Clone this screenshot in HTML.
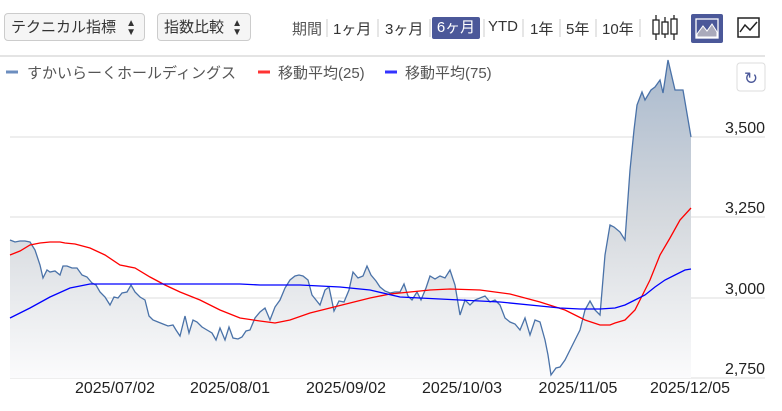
<!DOCTYPE html>
<html><head><meta charset="utf-8"><style>
body{margin:0;width:782px;height:411px;background:#fff;font-family:"Liberation Sans","Noto Sans CJK JP",sans-serif;overflow:hidden;position:relative}
.sel{position:absolute;top:13px;height:28px;border:1px solid #ccc;border-radius:4px;background:#f5f5f5;font-size:15px;line-height:28px;padding-left:6px;box-sizing:border-box;color:#333}
.per{position:absolute;top:18px;font-size:15px;color:#333}
</style></head><body>
<div class="sel" style="left:4px;width:141px">テクニカル指標 <span style="position:absolute;right:8px;font-size:10px;line-height:9px;top:5px">▲<br>▼</span></div>
<div class="sel" style="left:157px;width:94px">指数比較 <span style="position:absolute;right:8px;font-size:10px;line-height:9px;top:5px">▲<br>▼</span></div>
<div class="per" style="left:292px;color:#555">期間</div>
<div class="per" style="left:333px">1ヶ月</div>
<div class="per" style="left:385px">3ヶ月</div>
<div style="position:absolute;left:432px;top:17px;width:48px;height:22px;background:#4b5899;border-radius:2px;color:#fff;font-size:15px;line-height:22px;text-align:center">6ヶ月</div>
<div class="per" style="left:488px">YTD</div>
<div class="per" style="left:530px">1年</div>
<div class="per" style="left:566px">5年</div>
<div class="per" style="left:602px">10年</div>
<svg style="position:absolute;left:0;top:0" width="782" height="411">
<g stroke="#ccc" stroke-width="1"><line x1="327" y1="19" x2="327" y2="37"/><line x1="378" y1="19" x2="378" y2="37"/><line x1="430" y1="19" x2="430" y2="37"/><line x1="484" y1="19" x2="484" y2="37"/><line x1="523" y1="19" x2="523" y2="37"/><line x1="560" y1="19" x2="560" y2="37"/><line x1="596" y1="19" x2="596" y2="37"/><line x1="640" y1="19" x2="640" y2="37"/></g>
<g stroke="#222" fill="#fff" stroke-width="1.3"><line x1="656" y1="15" x2="656" y2="40"/><rect x="653" y="20" width="6" height="14"/><line x1="665" y1="17" x2="665" y2="38"/><rect x="662" y="22" width="6" height="12"/><line x1="674" y1="15" x2="674" y2="40"/><rect x="671" y="19" width="6" height="15"/></g>
<rect x="691" y="14" width="32" height="29" rx="2" fill="#4b5899"/>
<rect x="696" y="19" width="22" height="19" fill="none" stroke="#fff" stroke-width="1.3"/>
<path d="M697 34 L703 26 L707 31 L712 24 L717 32 L717 37 L697 37Z" fill="#aab" stroke="#fff"/>
<rect x="738" y="18" width="21" height="19" fill="none" stroke="#222" stroke-width="1.5"/>
<path d="M740 32 L745 25 L750 30 L757 22" fill="none" stroke="#222" stroke-width="1.5"/>
<line x1="0" y1="56" x2="765" y2="56" stroke="#e4e4e4" stroke-width="2"/>
<line x1="6" y1="72" x2="18" y2="72" stroke="#6c8ebf" stroke-width="3"/>
<text x="27" y="78" font-size="15" fill="#555">すかいらーくホールディングス</text>
<line x1="258" y1="72" x2="270" y2="72" stroke="#f33" stroke-width="3"/>
<text x="278" y="78" font-size="15" fill="#555">移動平均(25)</text>
<line x1="385" y1="72" x2="397" y2="72" stroke="#33f" stroke-width="3"/>
<text x="405" y="78" font-size="15" fill="#555">移動平均(75)</text>
<rect x="737" y="63" width="28" height="28" rx="3" fill="#fff" stroke="#ddd"/>
<text x="751" y="84" font-size="17" fill="#4b5899" text-anchor="middle">↻</text>
<defs><linearGradient id="g" gradientUnits="userSpaceOnUse" x1="0" y1="60" x2="0" y2="378"><stop offset="0" stop-color="#a9b9cd"/><stop offset="0.5" stop-color="#d5d9de"/><stop offset="1" stop-color="#fbfbfc"/></linearGradient></defs>
<g stroke="#ddd" stroke-width="1"><line x1="10" y1="137" x2="765" y2="137"/><line x1="10" y1="217" x2="765" y2="217"/><line x1="10" y1="298" x2="765" y2="298"/><line x1="10" y1="378" x2="765" y2="378"/></g>
<g font-size="16" fill="#222" text-anchor="end"><text x="765" y="133">3,500</text><text x="765" y="213">3,250</text><text x="765" y="294">3,000</text><text x="765" y="374">2,750</text></g>
<g font-size="16" fill="#222" text-anchor="middle"><text x="115" y="393">2025/07/02</text><text x="230" y="393">2025/08/01</text><text x="346" y="393">2025/09/02</text><text x="462" y="393">2025/10/03</text><text x="578" y="393">2025/11/05</text><text x="690" y="393">2025/12/05</text></g>
<path fill="url(#g)" stroke="none" d="M10,378 L10,240 15,242 20,241 25,241 30,242 35,250 40,265 43,278 47,270 50,272 55,271 60,275 63,266 67,266 72,268 77,268 82,275 87,277 92,283 96,285 100,292 105,297 110,305 114,297 118,298 122,293 127,292 131,285 135,292 140,297 145,300 149,316 153,320 158,322 163,324 168,326 173,325 176,330 180,336 185,316 189,333 193,320 197,322 202,327 207,330 212,333 216,340 220,328 225,340 229,327 233,338 238,339 242,337 246,331 250,330 255,318 260,312 265,308 270,320 275,307 280,300 285,288 290,280 295,276 299,275 303,276 308,280 312,295 316,300 320,305 325,290 329,287 334,311 339,301 344,302 349,290 353,272 358,278 363,276 367,266 371,275 376,281 380,287 385,291 390,293 395,292 400,292 404,284 408,296 412,300 417,292 421,300 426,288 430,276 435,279 440,276 445,278 450,270 455,285 460,315 465,300 470,305 475,300 480,298 485,296 490,302 495,300 500,305 505,318 510,322 515,324 520,330 525,318 530,335 535,320 540,322 545,340 548,355 551,375 556,368 560,367 565,360 570,350 575,340 580,330 585,310 590,301 595,310 600,315 605,255 610,225 614,227 620,232 625,240 630,170 634,130 637,105 642,92 645,100 651,90 655,87 660,80 663,93 668,60 675,90 679,90 683,90 691,137 L691,378Z"/>
<polyline fill="none" stroke="#4a72a8" stroke-width="1.3" points="10,240 15,242 20,241 25,241 30,242 35,250 40,265 43,278 47,270 50,272 55,271 60,275 63,266 67,266 72,268 77,268 82,275 87,277 92,283 96,285 100,292 105,297 110,305 114,297 118,298 122,293 127,292 131,285 135,292 140,297 145,300 149,316 153,320 158,322 163,324 168,326 173,325 176,330 180,336 185,316 189,333 193,320 197,322 202,327 207,330 212,333 216,340 220,328 225,340 229,327 233,338 238,339 242,337 246,331 250,330 255,318 260,312 265,308 270,320 275,307 280,300 285,288 290,280 295,276 299,275 303,276 308,280 312,295 316,300 320,305 325,290 329,287 334,311 339,301 344,302 349,290 353,272 358,278 363,276 367,266 371,275 376,281 380,287 385,291 390,293 395,292 400,292 404,284 408,296 412,300 417,292 421,300 426,288 430,276 435,279 440,276 445,278 450,270 455,285 460,315 465,300 470,305 475,300 480,298 485,296 490,302 495,300 500,305 505,318 510,322 515,324 520,330 525,318 530,335 535,320 540,322 545,340 548,355 551,375 556,368 560,367 565,360 570,350 575,340 580,330 585,310 590,301 595,310 600,315 605,255 610,225 614,227 620,232 625,240 630,170 634,130 637,105 642,92 645,100 651,90 655,87 660,80 663,93 668,60 675,90 679,90 683,90 691,137"/>
<polyline fill="none" stroke="#f00" stroke-width="1.3" points="10,255 20,251 30,245 40,243 50,242 60,242 65,243 75,244 90,248 105,255 120,265 135,268 150,277 165,285 180,292 200,300 220,310 240,318 260,321 275,323 290,320 310,313 330,308 350,303 370,298 390,294 410,292 430,290 450,289 480,290 510,294 540,302 565,310 585,320 600,325 610,325 615,323 625,320 635,310 640,300 650,280 660,255 670,238 680,220 691,208"/>
<polyline fill="none" stroke="#00f" stroke-width="1.3" points="10,318 30,308 50,297 70,288 90,284 120,284 150,284 200,284 240,284 260,285 300,285 340,287 370,290 400,297 420,298 460,300 500,302 540,306 560,308 580,309 600,309 615,308 625,305 635,300 645,295 655,287 665,280 675,275 685,270 691,269"/>
</svg>
</body></html>
